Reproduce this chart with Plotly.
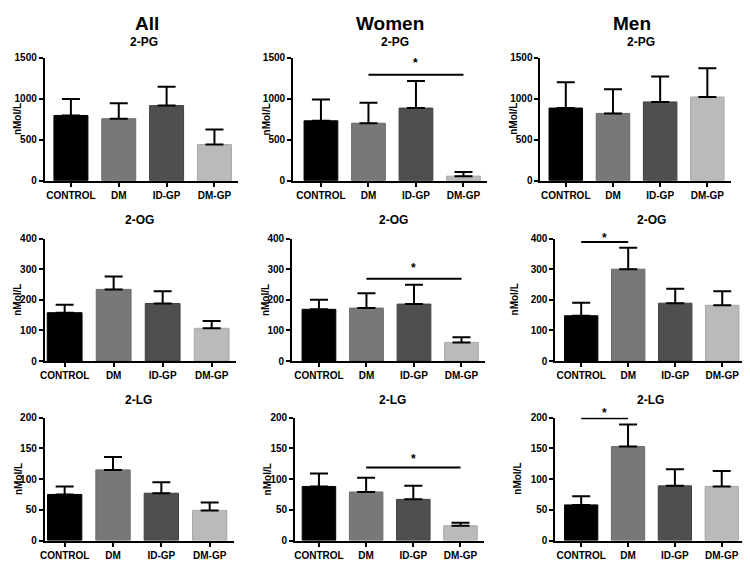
import plotly.graph_objects as go

# ---------------- data ----------------
groups = ["CONTROL", "DM", "ID-GP", "DM-GP"]
col_titles = ["All", "Women", "Men"]
row_titles = ["2-PG", "2-OG", "2-LG"]
y_max = [1500, 400, 200]
y_dtick = [500, 100, 50]

all_pg_mean = [795, 755, 915, 440]
all_pg_err = [200, 190, 230, 185]
women_pg_mean = [730, 700, 885, 55]
women_pg_err = [260, 250, 330, 50]
men_pg_mean = [885, 820, 960, 1020]
men_pg_err = [315, 295, 310, 350]

all_og_mean = [158, 234, 188, 107]
all_og_err = [26, 42, 40, 24]
women_og_mean = [169, 173, 186, 61]
women_og_err = [31, 48, 63, 17]
men_og_mean = [148, 300, 189, 182]
men_og_err = [42, 70, 47, 46]

all_lg_mean = [75, 115, 77, 49]
all_lg_err = [13, 21, 18, 13]
women_lg_mean = [88, 79, 67, 24]
women_lg_err = [21, 23, 22, 5]
men_lg_mean = [58, 153, 89, 88]
men_lg_err = [14, 36, 27, 25]

# significance brackets: (row, col, from group, to group, line height, star height)
sig_rows = [0, 1, 1, 2, 2]
sig_cols = [1, 1, 2, 1, 2]
sig_from = ["DM", "DM", "CONTROL", "DM", "CONTROL"]
sig_to = ["DM-GP", "DM-GP", "DM", "DM-GP", "DM"]
sig_line = [1290, 269, 389, 119, 199]
sig_star = [1430, 303, 403, 132, 207]

bar_colors = ["#000000", "#787878", "#4f4f4f", "#bababa"]
edge_colors = ["#000000", "#6a6a6a", "#404040", "#a8a8a8"]

means = [[all_pg_mean, women_pg_mean, men_pg_mean],
         [all_og_mean, women_og_mean, men_og_mean],
         [all_lg_mean, women_lg_mean, men_lg_mean]]
errs = [[all_pg_err, women_pg_err, men_pg_err],
        [all_og_err, women_og_err, men_og_err],
        [all_lg_err, women_lg_err, men_lg_err]]

# ---------------- layout geometry (page pixels) ----------------
W, H = 750, 565
OFF = 8  # page body margin
# (left axis px, first centre px, last centre px)
geo_x = [[(40, 66.3, 210.8), (290, 318, 461.5), (539, 564.5, 707)],
         [(40, 60, 208), (289, 316, 459.5), (554, 580, 722)],
         [(40, 60, 206), (292, 316, 458.5), (554, 580, 721.5)]]
geo_y = [(53.5, 179), (238, 363), (420.7, 546)]
col_title_x = [143, 388, 631]
col_title_y = 19.2
sub_x = [[140, 392.5, 640], [135, 391, 651], [134, 390.5, 650]]
sub_y = [37.2, 219, 402.5]
ylab_x = [[12, 263, 511], [13, 263, 513], [13, 264, 515]]

FONT = "Liberation Sans, Arial, Helvetica, sans-serif"


def fx(p):
    return (p - OFF) / W


def fy(p):
    return 1 - (p - OFF) / H


fig = go.Figure()
layout = dict(
    width=W, height=H,
    margin=dict(l=0, r=0, t=0, b=0),
    paper_bgcolor="white", plot_bgcolor="white",
    showlegend=False,
    font=dict(family=FONT, size=10, color="black", weight="bold"),
    annotations=[],
)

for r in range(3):
    for c in range(3):
        k = r * 3 + c + 1
        xa = "x" if k == 1 else f"x{k}"
        ya = "y" if k == 1 else f"y{k}"
        L, c0, c3 = geo_x[r][c]
        sp = (c3 - c0) / 3
        lo = -(c0 - L) / sp
        R = c3 + 0.5 * sp
        top, bot = geo_y[r]

        fig.add_trace(go.Bar(
            x=groups, y=means[r][c],
            width=0.71,
            marker=dict(color=bar_colors, line=dict(color=edge_colors, width=1)),
            error_y=dict(type="data", symmetric=False, array=errs[r][c],
                         arrayminus=[0] * 4, color="black", thickness=2, width=9),
            xaxis=xa, yaxis=ya, hoverinfo="x+y",
        ))

        layout["xaxis" if k == 1 else f"xaxis{k}"] = dict(
            domain=[fx(L), fx(R)], anchor=ya,
            type="category", categoryorder="array", categoryarray=groups,
            range=[lo, 3.5],
            showline=True, linecolor="black", linewidth=2,
            ticks="outside", ticklen=4, tickwidth=2, tickcolor="black",
            showgrid=False, zeroline=False,
            tickfont=dict(family=FONT, size=10, color="black", weight="bold"),
            fixedrange=True,
        )
        layout["yaxis" if k == 1 else f"yaxis{k}"] = dict(
            domain=[fy(bot), fy(top)], anchor=xa,
            range=[0, y_max[r]], dtick=y_dtick[r], tick0=0,
            showline=True, linecolor="black", linewidth=2,
            ticks="outside", ticklen=4, tickwidth=2, tickcolor="black",
            showgrid=False, zeroline=False,
            tickfont=dict(family=FONT, size=10, color="black", weight="bold"),
            fixedrange=True,
        )
        # panel title
        layout["annotations"].append(dict(
            text=row_titles[r], xref="paper", yref="paper",
            x=fx(sub_x[r][c]), y=fy(sub_y[r]),
            showarrow=False, xanchor="center", yanchor="middle",
            borderpad=0, borderwidth=0,
            font=dict(family=FONT, size=12, color="black", weight="bold"),
        ))
        # y axis title
        layout["annotations"].append(dict(
            text="nMol/L", xref="paper", yref="paper",
            x=fx(ylab_x[r][c]), y=fy((top + bot) / 2),
            textangle=-90, showarrow=False, xanchor="center", yanchor="middle",
            font=dict(family=FONT, size=10, color="black", weight="bold"),
        ))
        if r == 0:
            layout["annotations"].append(dict(
                text=col_titles[c], xref="paper", yref="paper",
                x=fx(col_title_x[c]), y=fy(col_title_y),
                showarrow=False, xanchor="center", yanchor="middle",
                borderpad=0, borderwidth=0,
                font=dict(family=FONT, size=19, color="black", weight="bold"),
            ))

for i in range(len(sig_rows)):
    r, c = sig_rows[i], sig_cols[i]
    k = r * 3 + c + 1
    xa = "x" if k == 1 else f"x{k}"
    ya = "y" if k == 1 else f"y{k}"
    fig.add_trace(go.Scatter(
        x=[sig_from[i], sig_to[i]], y=[sig_line[i], sig_line[i]],
        mode="lines", line=dict(color="black", width=2),
        xaxis=xa, yaxis=ya, cliponaxis=False, hoverinfo="skip",
    ))
    mid = (groups.index(sig_from[i]) + groups.index(sig_to[i])) / 2
    layout["annotations"].append(dict(
        text="*", xref=xa, yref=f"{ya} domain", x=mid,
        y=sig_star[i] / y_max[r],
        showarrow=False, xanchor="center", yanchor="middle",
        font=dict(family=FONT, size=12, color="black", weight="bold"),
    ))

fig.update_layout(**layout)
fig.write_html("out.html")
